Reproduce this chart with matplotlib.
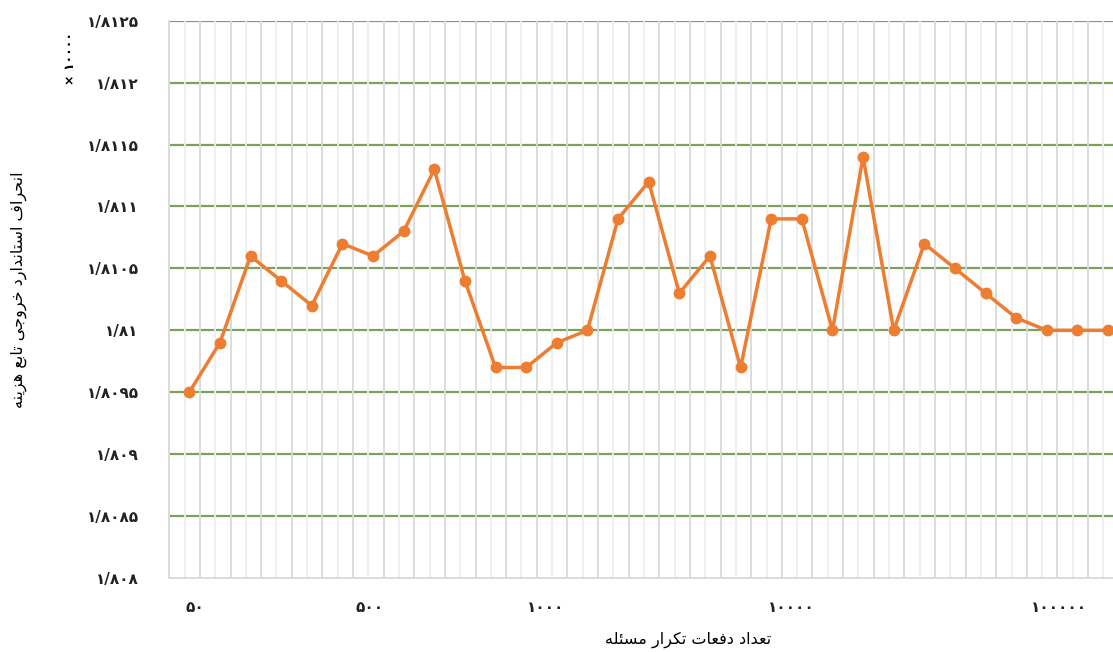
import matplotlib
matplotlib.use('Agg')
import matplotlib.pyplot as plt
import numpy as np

# standard deviation of the cost function output (x 10000 display units)
values = [18095, 18099, 18106, 18104, 18102, 18107, 18106, 18108, 18113, 18104,
          18097, 18097, 18099, 18100, 18109, 18112, 18103, 18106, 18097, 18109,
          18109, 18100, 18114, 18100, 18107, 18105, 18103, 18101, 18100, 18100,
          18100]
x_labels = ['50', '500', '1000', '10000', '100000']
x_label_pos = [0.19, 5.9, 11.65, 19.64, 28.4]
y_ticks = [18080, 18085, 18090, 18095, 18100, 18105, 18110, 18115, 18120, 18125]

x_title = 'تعداد دفعات تکرار مسئله'
y_title = 'انحراف استاندارد خروجی تابع هزینه'

# arabic presentation forms: isolated, final, initial, medial
FORMS = {
    'ا': ('\uFE8D', '\uFE8E', None, None),
    'ب': ('\uFE8F', '\uFE90', '\uFE91', '\uFE92'),
    'ت': ('\uFE95', '\uFE96', '\uFE97', '\uFE98'),
    'ج': ('\uFE9D', '\uFE9E', '\uFE9F', '\uFEA0'),
    'ح': ('\uFEA1', '\uFEA2', '\uFEA3', '\uFEA4'),
    'خ': ('\uFEA5', '\uFEA6', '\uFEA7', '\uFEA8'),
    'د': ('\uFEA9', '\uFEAA', None, None),
    'ر': ('\uFEAD', '\uFEAE', None, None),
    'ز': ('\uFEAF', '\uFEB0', None, None),
    'س': ('\uFEB1', '\uFEB2', '\uFEB3', '\uFEB4'),
    'ع': ('\uFEC9', '\uFECA', '\uFECB', '\uFECC'),
    'ف': ('\uFED1', '\uFED2', '\uFED3', '\uFED4'),
    'ل': ('\uFEDD', '\uFEDE', '\uFEDF', '\uFEE0'),
    'م': ('\uFEE1', '\uFEE2', '\uFEE3', '\uFEE4'),
    'ن': ('\uFEE5', '\uFEE6', '\uFEE7', '\uFEE8'),
    'ه': ('\uFEE9', '\uFEEA', '\uFEEB', '\uFEEC'),
    'و': ('\uFEED', '\uFEEE', None, None),
    'ئ': ('\uFE89', '\uFE8A', '\uFE8B', '\uFE8C'),
    'ی': ('\uFBFC', '\uFBFD', '\uFBFE', '\uFBFF'),
    'ک': ('\uFB8E', '\uFB8F', '\uFB90', '\uFB91'),
}


def shape(text):
    out = []
    for i, ch in enumerate(text):
        if ch not in FORMS:
            out.append(ch)
            continue
        prev = text[i - 1] if i > 0 else ''
        nxt = text[i + 1] if i + 1 < len(text) else ''
        jp = prev in FORMS and FORMS[prev][2] is not None
        jn = FORMS[ch][2] is not None and nxt in FORMS
        iso, fin, ini, med = FORMS[ch]
        if jp and jn:
            out.append(med)
        elif jp:
            out.append(fin)
        elif jn:
            out.append(ini)
        else:
            out.append(iso)
    return ''.join(reversed(out))


def fa_num(s):
    return s.translate(str.maketrans('0123456789.', '۰۱۲۳۴۵۶۷۸۹/'))


plt.rcParams['font.family'] = ['DejaVu Sans']

fig = plt.figure(figsize=(11.13, 6.52), dpi=100)
ax = fig.add_axes([0.1521, 0.1135, 0.8479, 0.8547])

x = np.arange(len(values))
ax.set_xlim(-0.653, 30.16)
ax.set_ylim(18080, 18125)

# vertical grid, alternating shades
for k in range(32):
    ax.axvline(-0.653 + k, color='#d9d9d9', lw=1.3, zorder=1)
    ax.axvline(-0.153 + k, color='#eeeeee', lw=1.3, zorder=1)
for v in y_ticks[1:]:
    ax.axhline(v, color='#79a25a', lw=1.6, zorder=0.5)

ax.plot(x, values, color='#ed7d31', lw=2.5, marker='o', markersize=7.5,
        zorder=3, clip_on=False)

for s in ['top', 'right']:
    ax.spines[s].set_visible(False)
for s in ['left', 'bottom']:
    ax.spines[s].set_color('#d9d9d9')
    ax.spines[s].set_linewidth(1.3)

ax.set_yticks(y_ticks)
ax.set_yticklabels([fa_num('%g' % (v / 10000)) for v in y_ticks],
                   fontsize=11, fontweight='bold')
ax.set_xticks(x_label_pos)
ax.set_xticklabels([fa_num(s) for s in x_labels], fontsize=11, fontweight='bold')
ax.tick_params(axis='both', length=0, colors='#222222')
ax.tick_params(axis='y', pad=22)
ax.tick_params(axis='x', pad=16)

fig.text(0.618, 0.019, shape(x_title), fontsize=11.5, ha='center', va='center')
fig.text(0.017, 0.555, shape(y_title), fontsize=11.5, rotation=90,
         ha='center', va='center')
fig.text(0.063, 0.91, fa_num('× 10000'), fontsize=9, fontweight='bold',
         rotation=90, ha='center', va='center')

fig.savefig('out.png', dpi=100)
